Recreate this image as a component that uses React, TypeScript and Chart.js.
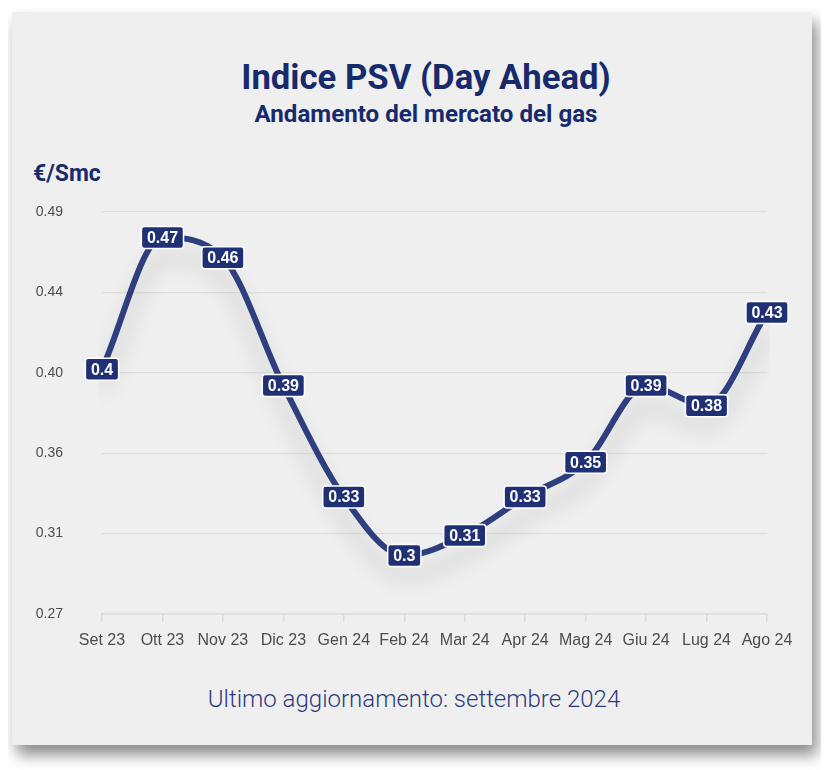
import React, { useEffect, useRef } from "react";
import { Chart, registerables } from "chart.js";

Chart.register(...registerables);

const months = ["Set 23", "Ott 23", "Nov 23", "Dic 23", "Gen 24", "Feb 24", "Mar 24", "Apr 24", "Mag 24", "Giu 24", "Lug 24", "Ago 24"];
const psvValues = [0.404, 0.476, 0.465, 0.395, 0.334, 0.302, 0.313, 0.334, 0.353, 0.395, 0.384, 0.435];
const yTickLabels = ["0.27", "0.31", "0.36", "0.40", "0.44", "0.49"];
const yMin = 0.27;
const yMax = 0.49;

const NAVY = "#172a6b";
const LINE = "#2e3e7e";
const BOX = "#1f3074";

const fmt = (v: number) => String(Math.floor(v * 100 + 1e-6) / 100);

const lineShadow = {
  id: "lineShadow",
  beforeDatasetDraw(chart: any) {
    const ctx = chart.ctx;
    ctx.save();
    ctx.shadowColor = "rgba(0,0,0,0.2)";
    ctx.shadowBlur = 22;
    ctx.shadowOffsetX = 0;
    ctx.shadowOffsetY = 20;
  },
  afterDatasetDraw(chart: any) {
    chart.ctx.restore();
  },
};

const pointLabels = {
  id: "pointLabels",
  afterDatasetsDraw(chart: any) {
    const ctx = chart.ctx;
    const meta = chart.getDatasetMeta(0);
    const data = chart.data.datasets[0].data as number[];
    ctx.save();
    ctx.font = "bold 16px 'Liberation Sans', Arial, sans-serif";
    ctx.textAlign = "center";
    ctx.textBaseline = "middle";
    meta.data.forEach((pt: any, i: number) => {
      const txt = fmt(data[i]);
      const w = ctx.measureText(txt).width + 11;
      const h = 22;
      const x = pt.x - w / 2;
      const y = pt.y - h / 2;
      ctx.beginPath();
      (ctx as any).roundRect(x, y, w, h, 3);
      ctx.fillStyle = BOX;
      ctx.fill();
      ctx.lineWidth = 1.5;
      ctx.strokeStyle = "#ffffff";
      ctx.stroke();
      ctx.fillStyle = "#ffffff";
      ctx.fillText(txt, pt.x, pt.y + 1);
    });
    ctx.restore();
  },
};

function PsvChart() {
  const ref = useRef<HTMLCanvasElement>(null);
  useEffect(() => {
    if (!ref.current) return;
    const chart = new Chart(ref.current, {
      type: "line",
      data: {
        labels: months,
        datasets: [
          {
            data: psvValues,
            borderColor: LINE,
            borderWidth: 6,
            pointRadius: 0,
            fill: false,
            cubicInterpolationMode: "monotone",
            borderCapStyle: "round",
            borderJoinStyle: "round",
          },
        ],
      },
      options: {
        animation: false,
        responsive: false,
        devicePixelRatio: 1,
        layout: { padding: { top: 22, right: 45, left: 0, bottom: 0 } },
        plugins: { legend: { display: false }, tooltip: { enabled: false }, title: { display: false } },
        scales: {
          x: {
            offset: false,
            grid: { drawOnChartArea: false, drawTicks: true, tickLength: 8, color: "#dcdcdc", lineWidth: 1.5 },
            border: { display: true, color: "#dcdcdc", width: 1.5 },
            ticks: {
              color: "#4d4d4d",
              font: { family: "'Liberation Sans', Arial, sans-serif", size: 16 },
              padding: 9,
              maxRotation: 0,
              autoSkip: false,
            },
            afterFit(scale: any) {
              scale.height = 56;
            },
          },
          y: {
            min: yMin,
            max: yMax,
            grid: { drawTicks: true, tickLength: 39, tickColor: "rgba(0,0,0,0)", color: "#dedede", lineWidth: 1.2 },
            border: { display: false },
            ticks: {
              count: 6,
              color: "#4d4d4d",
              font: { family: "'Liberation Sans', Arial, sans-serif", size: 14 },
              padding: 0,
              callback: (_v: any, i: number) => yTickLabels[i],
            },
            afterFit(scale: any) {
              scale.width = 90;
            },
          },
        },
      },
      plugins: [lineShadow, pointLabels],
    } as any);
    return () => chart.destroy();
  }, []);
  return <canvas ref={ref} width={800} height={480} style={{ position: "absolute", left: 0, top: 178, width: 800, height: 480 }} />;
}

export default function App() {
  const font = "Roboto, 'Liberation Sans', sans-serif";
  return (
    <div style={{ position: "relative", width: 829, height: 762 }}>
      <div
        style={{
          position: "absolute",
          left: 4,
          top: 4,
          width: 800,
          height: 733,
          background: "#efefef",
          boxShadow: "5px 10px 14px rgba(0,0,0,0.45)",
          fontFamily: font,
        }}
      >
        <div style={{ position: "absolute", left: 14, top: 48, width: 800, textAlign: "center", fontSize: 34.7, lineHeight: 1, fontWeight: 700, color: NAVY, whiteSpace: "nowrap" }}>
          Indice PSV (Day Ahead)
        </div>
        <div style={{ position: "absolute", left: 14, top: 90, width: 800, textAlign: "center", fontSize: 24.1, lineHeight: 1, fontWeight: 700, color: NAVY, whiteSpace: "nowrap" }}>
          Andamento del mercato del gas
        </div>
        <div style={{ position: "absolute", left: 21, top: 150, fontSize: 23, lineHeight: 1, fontWeight: 700, color: NAVY, whiteSpace: "nowrap" }}>
          €/Smc
        </div>
        <PsvChart />
        <div style={{ position: "absolute", left: 2, top: 675, width: 800, textAlign: "center", fontSize: 24, lineHeight: 1, fontWeight: 300, color: "#2c3c80", whiteSpace: "nowrap" }}>
          Ultimo aggiornamento: settembre 2024
        </div>
      </div>
    </div>
  );
}
